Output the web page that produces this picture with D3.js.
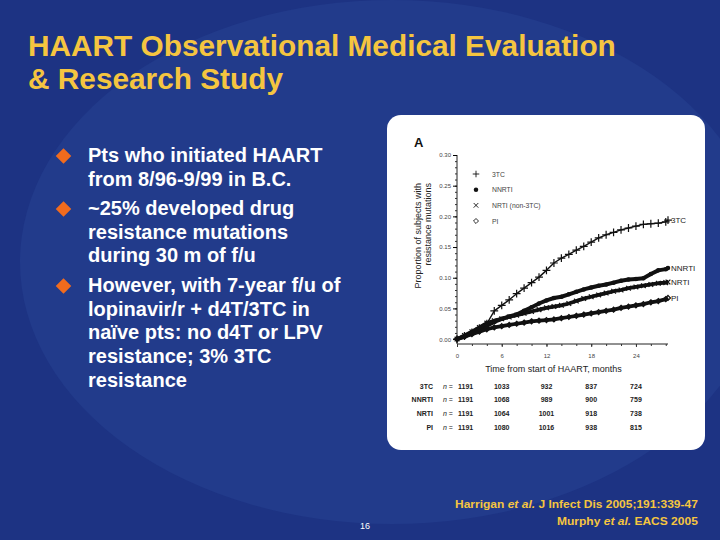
<!DOCTYPE html>
<html><head><meta charset="utf-8">
<script src="https://cdn.jsdelivr.net/npm/d3@7"></script>
<style>body{margin:0;background:#1c3282;} svg{display:block;}</style>
</head><body>
<svg id="c" width="720" height="540"></svg>
<script>
// ---------------- DATA ----------------
const titleLines = ["HAART Observational Medical Evaluation", "& Research Study"];
const bullets = [
  ["Pts who initiated HAART", "from 8/96-9/99 in B.C."],
  ["~25% developed drug", "resistance mutations", "during 30 m of f/u"],
  ["However, with 7-year f/u of", "lopinavir/r + d4T/3TC in", "naïve pts: no d4T or LPV", "resistance; 3% 3TC", "resistance"]
];
const months = [0,1,2,3,4,5,6,7,8,9,10,11,12,13,14,15,16,17,18,19,20,21,22,23,24,25,26,27,28,28.3];
const seriesNames = ["3TC", "NNRTI", "NRTI (non-3TC)", "PI"];
const endLabels = ["3TC", "NNRTI", "NRTI", "PI"];
const val3TC   = [0,.005,.011,.018,.025,.046,.055,.064,.074,.083,.092,.101,.112,.124,.132,.138,.145,.151,.158,.165,.170,.174,.178,.181,.184,.187,.188,.189,.191,.194];
const valNNRTI = [0,.004,.010,.016,.022,.028,.033,.037,.040,.046,.052,.058,.063,.067,.069,.073,.077,.081,.084,.087,.089,.092,.095,.097,.098,.099,.106,.112,.114,.116];
const valNRTI  = [0,.006,.012,.019,.026,.030,.033,.036,.039,.042,.045,.048,.051,.053,.055,.058,.062,.066,.069,.072,.075,.078,.080,.083,.085,.087,.089,.091,.092,.093];
const valPI    = [0,.004,.008,.012,.016,.019,.021,.023,.025,.027,.029,.030,.031,.032,.034,.036,.038,.040,.042,.044,.046,.048,.051,.053,.055,.057,.060,.062,.065,.067];
const xTicks = [0, 6, 12, 18, 24];
const yTicks = [0, 0.05, 0.10, 0.15, 0.20, 0.25, 0.30];
const riskRows = ["3TC", "NNRTI", "NRTI", "PI"];
const risk3TC   = [1191, 1033, 932, 837, 724];
const riskNNRTI = [1191, 1068, 989, 900, 759];
const riskNRTI  = [1191, 1064, 1001, 918, 738];
const riskPI    = [1191, 1080, 1016, 938, 815];
const xTitle = "Time from start of HAART, months";
const yTitle = ["Proportion of subjects with", "resistance mutations"];
const pageNum = "16";
const citations = [
  [["Harrigan ", false], ["et al.", true], [" J Infect Dis 2005;191:339-47", false]],
  [["Murphy ", false], ["et al.", true], [" EACS 2005", false]]
];

// ---------------- DRAW ----------------
const svg = d3.select("#c");
const FONT = "'Liberation Sans', Arial, Helvetica, sans-serif";

// background
svg.append("rect").attr("width", 720).attr("height", 540).attr("fill", "#1d3383");
svg.append("ellipse").attr("cx", 392).attr("cy", 262).attr("rx", 372).attr("ry", 262).attr("fill", "#223b8b");

// title
titleLines.forEach((t, i) => {
  svg.append("text").attr("x", 28).attr("y", 56 + i * 33)
    .attr("fill", "#f5c540").style("font", `bold 29.8px ${FONT}`).text(t);
});

// bullets
const bulletStart = [162, 215, 292];
bullets.forEach((lines, bi) => {
  const y0 = bulletStart[bi];
  svg.append("rect").attr("x", -5.5).attr("y", -5.5).attr("width", 11).attr("height", 11)
    .attr("fill", "#f26b1d")
    .attr("transform", `translate(63.5,${y0 - 6}) rotate(45)`);
  lines.forEach((l, li) => {
    svg.append("text").attr("x", 88).attr("y", y0 + li * 23.7)
      .attr("fill", "#ffffff").style("font", `bold 20px ${FONT}`).text(l);
  });
});

// chart panel
svg.append("rect").attr("x", 387).attr("y", 115).attr("width", 318).attr("height", 335)
  .attr("rx", 14).attr("fill", "#ffffff");
svg.append("text").attr("x", 414).attr("y", 147).style("font", `bold 13px ${FONT}`).attr("fill", "#111").text("A");

const x = d3.scaleLinear().domain([0, 28.3]).range([457, 668]);
const y = d3.scaleLinear().domain([-0.008, 0.30]).range([344, 155]);

// y axis
const gy = svg.append("g").attr("transform", `translate(${x(0)},0)`);
gy.call(d3.axisLeft(y).tickValues(d3.range(0, 0.3001, 0.01)).tickSize(2).tickFormat(""));
gy.call(g => g.selectAll(".tick line").attr("stroke", "#333"));
const gy2 = svg.append("g").attr("transform", `translate(${x(0)},0)`);
gy2.call(d3.axisLeft(y).tickValues(yTicks).tickSize(4).tickPadding(2).tickFormat(d3.format(".2f")));
[gy, gy2].forEach(g => {
  g.select(".domain").attr("stroke", "#222");
  g.selectAll("text").style("font", `6px ${FONT}`).attr("fill", "#444");
});
gy.select(".domain").attr("d", `M0,${y(0.30)}V${y.range()[0]}`);
gy2.select(".domain").remove();

// x axis
const gx = svg.append("g").attr("transform", `translate(0,${y.range()[0]})`);
gx.call(d3.axisBottom(x).tickValues(d3.range(0, 28.5, 2)).tickSize(2).tickFormat(""));
const gx2 = svg.append("g").attr("transform", `translate(0,${y.range()[0]})`);
gx2.call(d3.axisBottom(x).tickValues(xTicks).tickSize(3).tickPadding(7).tickFormat(d3.format("d")));
gx.select(".domain").attr("d", `M${x(0)},0H${x(28.3)}`).attr("stroke", "#222");
gx2.select(".domain").remove();
[gx, gx2].forEach(g => {
  g.selectAll(".tick line").attr("stroke", "#333");
  g.selectAll("text").style("font", `6px ${FONT}`).attr("fill", "#444");
});

// axis titles
svg.append("text").attr("x", (x(0) + x(24)) / 2 + 7).attr("y", 372).attr("text-anchor", "middle")
  .style("font", `9px ${FONT}`).attr("fill", "#222").text(xTitle);
yTitle.forEach((t, i) => {
  svg.append("text").attr("transform", `translate(${421 + i * 10},183) rotate(-90)`)
    .attr("text-anchor", "end").style("font", `9px ${FONT}`).attr("fill", "#222").text(t);
});

// series
const allVals = [val3TC, valNNRTI, valNRTI, valPI];
const widths = [1.4, 4, 3.8, 3.8];
const line = d3.line().x((d, i) => x(months[i])).y(d => y(d));
allVals.forEach((vals, si) => {
  svg.append("path").datum(vals).attr("d", line).attr("fill", "none")
    .attr("stroke", "#111").attr("stroke-width", widths[si]).attr("stroke-linejoin", "round");
});
// markers
const syms = [d3.symbolPlus, d3.symbolCircle, d3.symbolX, d3.symbolDiamond2];
allVals.forEach((vals, si) => {
  svg.append("g").selectAll("path").data(vals).join("path")
    .attr("transform", (d, i) => `translate(${x(months[i])},${y(d)})`)
    .attr("d", d3.symbol(syms[si], si === 0 ? 22 : 16)())
    .attr("fill", si === 1 ? "#111" : "none")
    .attr("stroke", "#111").attr("stroke-width", si === 1 ? 0 : 1.2);
});
// end labels
allVals.forEach((vals, si) => {
  svg.append("text").attr("x", x(28.3) + 3).attr("y", y(vals[vals.length - 1]) + 3)
    .style("font", `8px ${FONT}`).attr("fill", "#222").text(endLabels[si]);
});

// legend
const legY = d3.scalePoint().domain(seriesNames).range([174, 221]);
seriesNames.forEach((n, si) => {
  svg.append("path").attr("transform", `translate(476,${legY(n)})`)
    .attr("d", d3.symbol(syms[si], 16)())
    .attr("fill", si === 1 ? "#111" : "none").attr("stroke", "#111").attr("stroke-width", si === 1 ? 0 : 0.9);
  svg.append("text").attr("x", 492).attr("y", legY(n) + 2.5)
    .style("font", `6.8px ${FONT}`).attr("fill", "#444").text(n);
});

// risk table
const riskVals = [risk3TC, riskNNRTI, riskNRTI, riskPI];
const rowY = d3.scalePoint().domain(riskRows).range([386, 427]);
riskRows.forEach((r, ri) => {
  const yy = rowY(r) + 2.5;
  svg.append("text").attr("x", 433).attr("y", yy).attr("text-anchor", "end")
    .style("font", `bold 7px ${FONT}`).attr("fill", "#222").text(r);
  svg.append("text").attr("x", 443).attr("y", yy)
    .style("font", `7px ${FONT}`).attr("fill", "#222")
    .call(t => { t.append("tspan").style("font-style", "italic").text("n"); t.append("tspan").text(" ="); });
  riskVals[ri].forEach((v, ci) => {
    svg.append("text").attr("x", ci === 0 ? x(xTicks[ci]) + 1 : x(xTicks[ci]))
      .attr("y", yy).attr("text-anchor", ci === 0 ? "start" : "middle")
      .style("font", `bold 7px ${FONT}`).attr("fill", "#222").text(v);
  });
});

// page number
svg.append("text").attr("x", 365).attr("y", 529).attr("text-anchor", "middle")
  .style("font", `9px ${FONT}`).attr("fill", "#ffffff").text(pageNum);

// citations
const citeTargets = [[698, 508, 243], [698, 525, 141]];
citations.forEach((parts, ci) => {
  const [rx, by, w] = citeTargets[ci];
  const g = svg.append("g");
  const t = g.append("text").attr("x", 0).attr("y", 0)
    .style("font", `bold 11.5px ${FONT}`).attr("fill", "#f5c540");
  parts.forEach(([s, it]) => t.append("tspan").style("font-style", it ? "italic" : "normal").text(s));
  const len = t.node().getComputedTextLength();
  const sx = w / len;
  g.attr("transform", `translate(${rx - w},${by}) scale(${sx},1)`);
});
</script>
</body></html>
